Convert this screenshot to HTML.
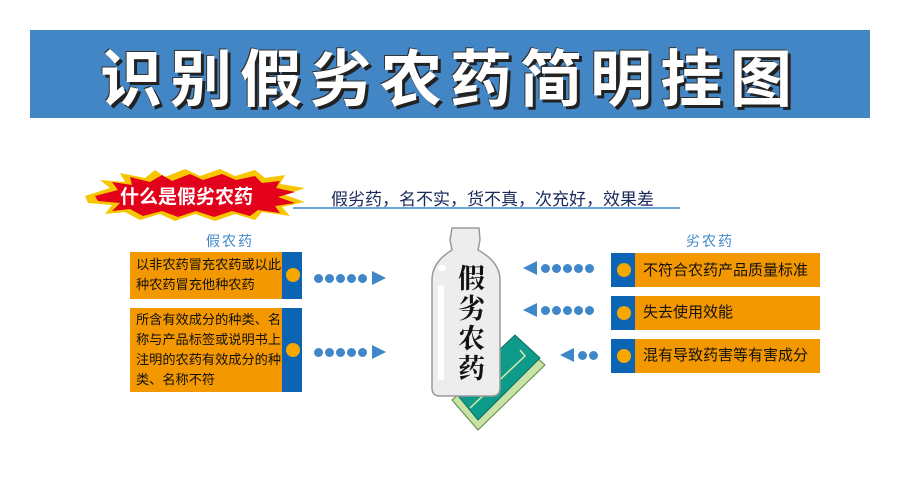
<!DOCTYPE html>
<html><head><meta charset="utf-8"><style>
body{margin:0;width:900px;height:497px;background:#fff;position:relative;overflow:hidden;font-family:"Liberation Sans","Noto Sans CJK SC",sans-serif}
.a{position:absolute}
.t{font-size:15px;color:#111;line-height:21px}
.l{font-size:13.2px;line-height:20px;color:#111;white-space:nowrap}
.dot{position:absolute;width:9px;height:9px;border-radius:50%;background:#3f87c8}
.c{position:absolute;width:14px;height:14px;border-radius:50%;background:#f5a800}
</style></head><body>
<div class="a" style="left:30px;top:30px;width:840px;height:88px;background:#4386c6"></div>
<div class="a" style="left:80px;top:30px;width:740px;height:88px;line-height:88px;text-align:center;font-size:62px;font-weight:bold;color:#fff;letter-spacing:8px;text-shadow:3px 3px 0 #222,-1px -1px 0 #333;font-family:'Noto Sans CJK SC',sans-serif">识别假劣农药简明挂图</div>

<svg class="a" style="left:0;top:0" width="900" height="497">
<polygon points="85,196 110,188 100,180 125,182 120,173 145,178 155,170 165,177 185,169 200,176 220,169 235,176 255,170 265,178 285,175 280,184 305,188 285,195 305,202 282,207 290,216 262,212 255,220 235,214 215,221 195,214 175,221 160,214 140,220 125,212 105,214 112,205 88,203" fill="#f7c600"/>
<polygon points="95,196 118,190 112,182 132,185 130,177 150,182 162,175 172,181 190,174 203,180 222,174 236,180 255,176 262,183 280,181 276,188 295,192 278,197 295,203 275,206 280,213 258,210 250,216 232,211 214,217 196,211 178,217 162,211 143,216 130,209 112,211 120,203 98,201" fill="#e3001b"/>
<line x1="293" y1="208" x2="680" y2="208" stroke="#6da4d8" stroke-width="2"/>
<polygon points="452,400 520,342 545,365 478,430" fill="#c9e2a6" stroke="#5a8a40"/>
<polygon points="455,392 515,335 540,358 478,420" fill="#0e9b8a" stroke="#0a6e60"/>
<polyline points="470,408 525,356 520,350" fill="none" stroke="#d8e9a8" stroke-width="1.5"/>
<path d="M452,228 L479,228 L480,240 L478,250 Q500,262 500,280 L500,388 Q500,396 492,396 L440,396 Q432,396 432,388 L432,280 Q432,262 452,250 L450,240 Z" fill="#ededed" stroke="#999" stroke-width="1.5"/>
<rect x="438" y="265" width="8" height="6" rx="3" fill="#fff"/>
<rect x="438" y="285" width="6" height="95" rx="3" fill="#fff"/>
<polygon points="372,271 386,278 372,285" fill="#3f87c8"/>
<polygon points="372,345 386,352 372,359" fill="#3f87c8"/>
<polygon points="537,261 523,268 537,275" fill="#3f87c8"/>
<polygon points="537,303 523,310 537,317" fill="#3f87c8"/>
<polygon points="574,348 560,355 574,362" fill="#3f87c8"/>
</svg>
<div class="a" style="left:120px;top:182px;font-size:19px;font-weight:bold;color:#fff">什么是假劣农药</div>
<div class="a" style="left:331px;top:185px;font-size:17px;color:#1b2a5a">假劣药，名不实，货不真，次充好，效果差</div>

<div class="dot" style="left:314px;top:274px"></div><div class="dot" style="left:325px;top:274px"></div><div class="dot" style="left:336px;top:274px"></div><div class="dot" style="left:347px;top:274px"></div><div class="dot" style="left:358px;top:274px"></div>
<div class="dot" style="left:314px;top:348px"></div><div class="dot" style="left:325px;top:348px"></div><div class="dot" style="left:336px;top:348px"></div><div class="dot" style="left:347px;top:348px"></div><div class="dot" style="left:358px;top:348px"></div>
<div class="dot" style="left:541px;top:264px"></div><div class="dot" style="left:552px;top:264px"></div><div class="dot" style="left:563px;top:264px"></div><div class="dot" style="left:574px;top:264px"></div><div class="dot" style="left:585px;top:264px"></div>
<div class="dot" style="left:541px;top:306px"></div><div class="dot" style="left:552px;top:306px"></div><div class="dot" style="left:563px;top:306px"></div><div class="dot" style="left:574px;top:306px"></div><div class="dot" style="left:585px;top:306px"></div>
<div class="dot" style="left:578px;top:351px"></div><div class="dot" style="left:589px;top:351px"></div>

<div class="a" style="left:458px;top:262px;width:24px;font-size:27px;line-height:30px;color:#111;font-family:'Noto Serif CJK SC',serif;font-weight:bold">假劣农药</div>

<div class="a" style="left:206px;top:231px;font-size:14px;color:#3f87c8;letter-spacing:2px">假农药</div>
<div class="a" style="left:686px;top:231px;font-size:14px;color:#3f87c8;letter-spacing:2px">劣农药</div>

<div class="a" style="left:130px;top:252px;width:152px;height:47px;background:#f39800"></div>
<div class="a" style="left:282px;top:252px;width:20px;height:47px;background:#0b64b4"></div>
<div class="c" style="left:286px;top:268px"></div>
<div class="a l" style="left:136px;top:255px">以非农药冒充农药或以此<br>种农药冒充他种农药</div>

<div class="a" style="left:130px;top:308px;width:152px;height:84px;background:#f39800"></div>
<div class="a" style="left:282px;top:308px;width:20px;height:84px;background:#0b64b4"></div>
<div class="c" style="left:286px;top:343px"></div>
<div class="a l" style="left:136px;top:310px">所含有效成分的种类、名<br>称与产品标签或说明书上<br>注明的农药有效成分的种<br>类、名称不符</div>

<div class="a" style="left:611px;top:253px;width:24px;height:34px;background:#0b64b4"></div>
<div class="a" style="left:635px;top:253px;width:185px;height:34px;background:#f39800"></div>
<div class="c" style="left:617px;top:263px"></div>
<div class="a t" style="left:643px;top:260px">不符合农药产品质量标准</div>

<div class="a" style="left:611px;top:296px;width:24px;height:34px;background:#0b64b4"></div>
<div class="a" style="left:635px;top:296px;width:185px;height:34px;background:#f39800"></div>
<div class="c" style="left:617px;top:306px"></div>
<div class="a t" style="left:643px;top:302px">失去使用效能</div>

<div class="a" style="left:611px;top:339px;width:24px;height:34px;background:#0b64b4"></div>
<div class="a" style="left:635px;top:339px;width:185px;height:34px;background:#f39800"></div>
<div class="c" style="left:617px;top:349px"></div>
<div class="a t" style="left:643px;top:345px">混有导致药害等有害成分</div>
</body></html>
